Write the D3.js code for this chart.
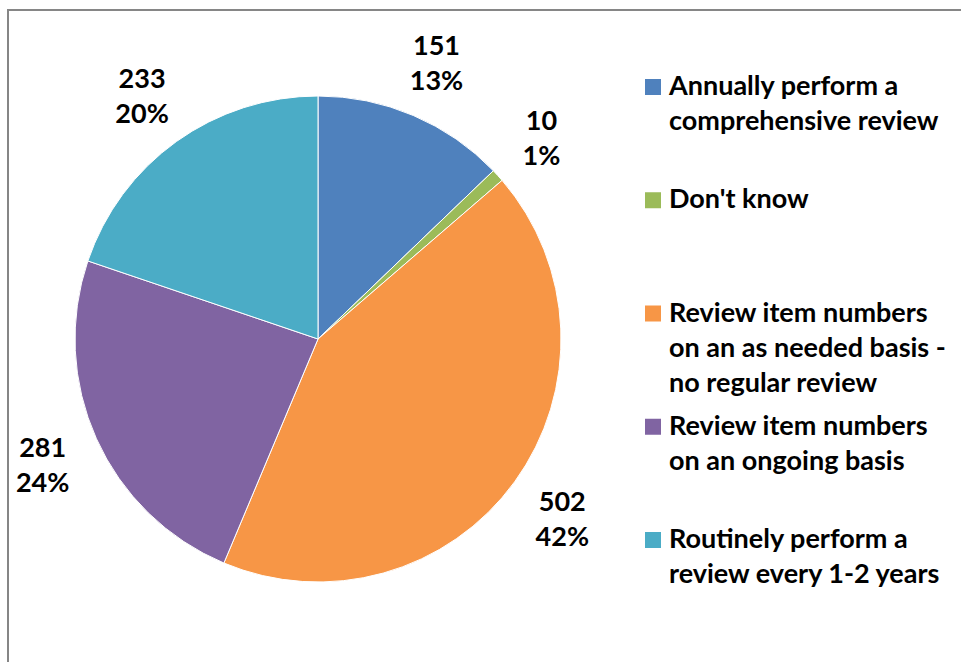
<!DOCTYPE html>
<html lang="en">
<head>
<meta charset="UTF-8" />
<title>Item number review</title>
<script src="https://d3js.org/d3.v7.min.js"></script>
<style>
  body { margin: 0; background: #fff; font-family: "Lato", sans-serif; }
</style>
</head>
<body>
<div id="chart"></div>
<script>
// data
var categories = [
  ["Annually perform a", "comprehensive review"],
  ["Don't know"],
  ["Review item numbers", "on an as needed basis -", "no regular review"],
  ["Review item numbers", "on an ongoing basis"],
  ["Routinely perform a", "review every 1-2 years"]
];
var counts = [151, 10, 502, 281, 233];
var pctLabels = ["13%", "1%", "42%", "24%", "20%"];
var colors = ["#4F81BD", "#9BBB59", "#F79646", "#8064A2", "#4BACC6"];

var width = 961, height = 662;
var cx = 318, cy = 339, radius = 243;
var fontSize = 27;

var svg = d3.select("#chart").append("svg")
  .attr("width", width)
  .attr("height", height);

// chart frame
svg.append("rect")
  .attr("x", 8).attr("y", 10)
  .attr("width", 1000).attr("height", 700)
  .attr("fill", "#fff")
  .attr("stroke", "#868686")
  .attr("stroke-width", 2);

var pie = d3.pie().sort(null).value(function (d) { return d; });
var arcs = pie(counts);

var arc = d3.arc().innerRadius(0).outerRadius(radius);
var labelArc = d3.arc().innerRadius(302).outerRadius(302);

var g = svg.append("g").attr("transform", "translate(" + cx + "," + cy + ")");

g.selectAll("path.slice")
  .data(arcs)
  .enter()
  .append("path")
  .attr("class", "slice")
  .attr("d", arc)
  .attr("fill", function (d, i) { return colors[i]; })
  .attr("stroke", "#fff")
  .attr("stroke-width", 1);

// data labels: value on top, percent below
var labels = g.selectAll("text.lbl")
  .data(arcs)
  .enter()
  .append("text")
  .attr("class", "lbl")
  .attr("transform", function (d) {
    var c = labelArc.centroid(d);
    return "translate(" + c[0] + "," + c[1] + ")";
  })
  .attr("text-anchor", "middle")
  .style("font-size", fontSize + "px")
  .style("font-weight", 700)
  .attr("fill", "#000");

labels.append("tspan")
  .attr("x", 0).attr("y", -6)
  .text(function (d) { return d.data; });
labels.append("tspan")
  .attr("x", 0).attr("y", 29)
  .text(function (d, i) { return pctLabels[i]; });

// legend
var legendTop = 95, legendStep = 113.25, lineH = 35;
var legend = svg.selectAll("g.leg")
  .data(categories)
  .enter()
  .append("g")
  .attr("class", "leg")
  .attr("transform", function (d, i) {
    return "translate(645," + (legendTop + i * legendStep) + ")";
  });

legend.append("rect")
  .attr("x", 0).attr("y", -16)
  .attr("width", 16).attr("height", 16)
  .attr("fill", function (d, i) { return colors[i]; });

legend.append("text")
  .style("font-size", fontSize + "px")
  .style("font-weight", 700)
  .attr("fill", "#000")
  .selectAll("tspan")
  .data(function (d) { return d; })
  .enter()
  .append("tspan")
  .attr("x", 24)
  .attr("y", function (d, j) { return j * lineH; })
  .text(function (d) { return d; });
</script>
</body>
</html>
